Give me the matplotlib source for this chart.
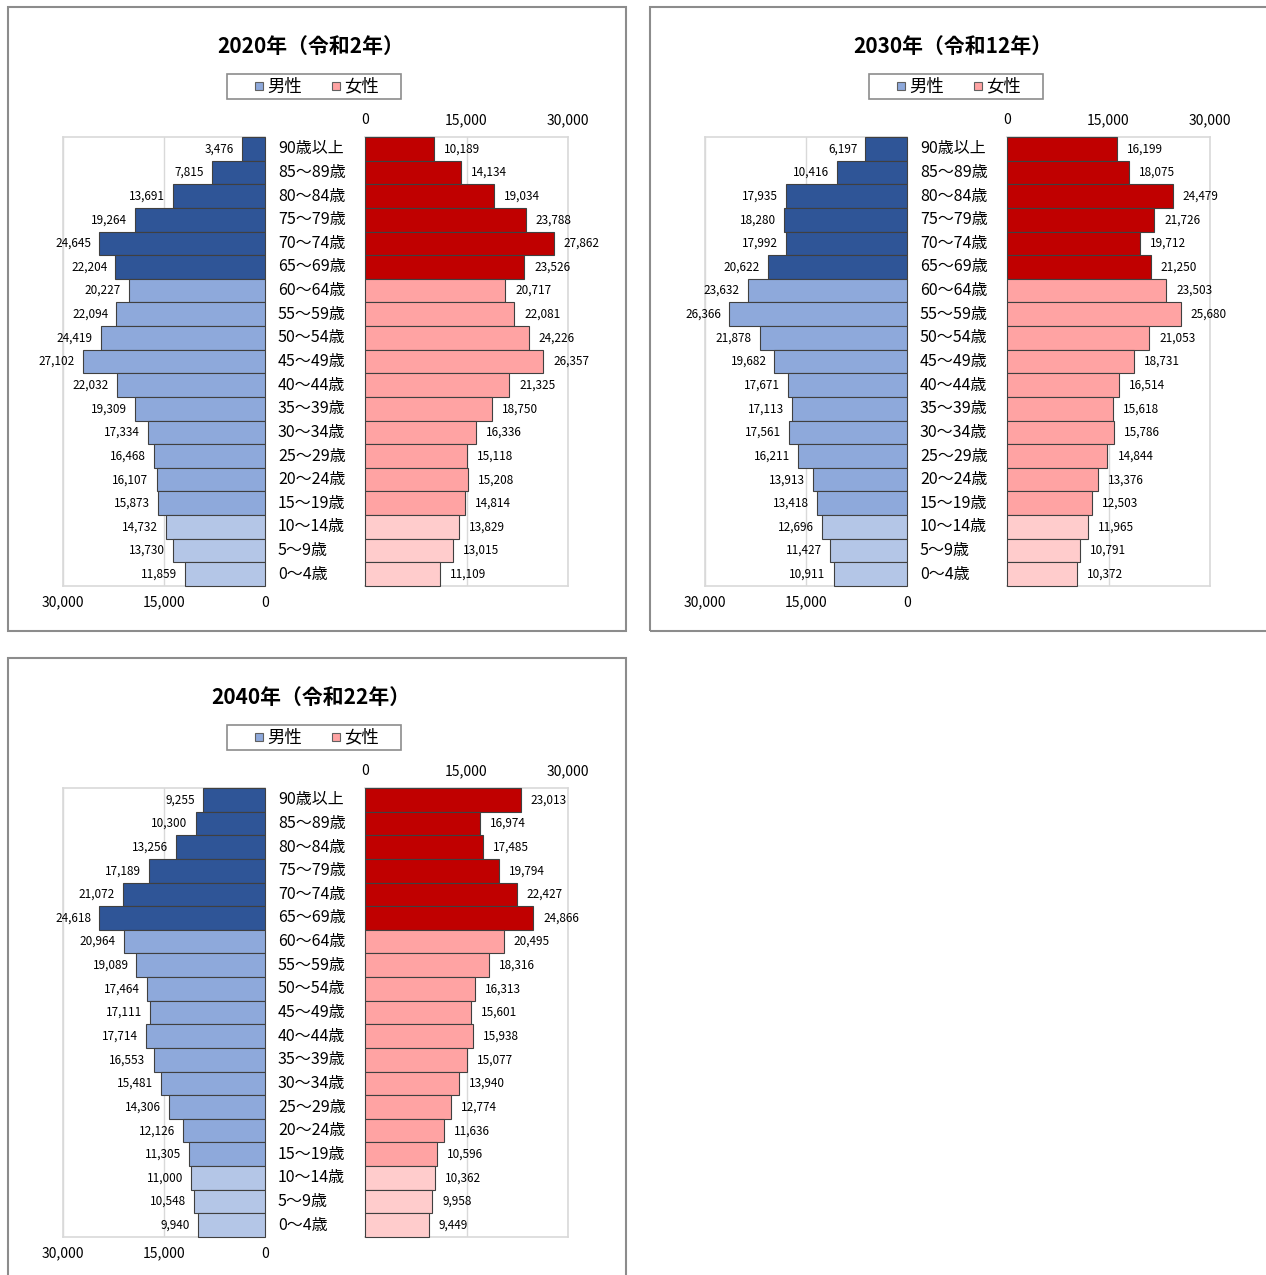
import matplotlib
matplotlib.use("Agg")
import matplotlib.pyplot as plt
from matplotlib.patches import Rectangle

plt.rcParams['font.family'] = ['Noto Sans CJK JP', 'DejaVu Sans']

ages = ["90歳以上", "85～89歳", "80～84歳", "75～79歳", "70～74歳", "65～69歳",
        "60～64歳", "55～59歳", "50～54歳", "45～49歳", "40～44歳", "35～39歳",
        "30～34歳", "25～29歳", "20～24歳", "15～19歳", "10～14歳", "5～9歳", "0～4歳"]

male_2020 = [3476, 7815, 13691, 19264, 24645, 22204, 20227, 22094, 24419, 27102,
             22032, 19309, 17334, 16468, 16107, 15873, 14732, 13730, 11859]
female_2020 = [10189, 14134, 19034, 23788, 27862, 23526, 20717, 22081, 24226, 26357,
               21325, 18750, 16336, 15118, 15208, 14814, 13829, 13015, 11109]

male_2030 = [6197, 10416, 17935, 18280, 17992, 20622, 23632, 26366, 21878, 19682,
             17671, 17113, 17561, 16211, 13913, 13418, 12696, 11427, 10911]
female_2030 = [16199, 18075, 24479, 21726, 19712, 21250, 23503, 25680, 21053, 18731,
               16514, 15618, 15786, 14844, 13376, 12503, 11965, 10791, 10372]

male_2040 = [9255, 10300, 13256, 17189, 21072, 24618, 20964, 19089, 17464, 17111,
             17714, 16553, 15481, 14306, 12126, 11305, 11000, 10548, 9940]
female_2040 = [23013, 16974, 17485, 19794, 22427, 24866, 20495, 18316, 16313, 15601,
               15938, 15077, 13940, 12774, 11636, 10596, 10362, 9958, 9449]

titles = ["2020年（令和2年）", "2030年（令和12年）", "2040年（令和22年）"]
legend_labels = ["男性", "女性"]

# colour per age band: 65+ / 15-64 / 0-14
male_cols = ["#2F5597"] * 6 + ["#8EA9DB"] * 10 + ["#B4C6E7"] * 3
female_cols = ["#C00000"] * 6 + ["#FFA3A3"] * 10 + ["#FFCCCC"] * 3

W, H = 1266, 1275
fig = plt.figure(figsize=(W / 100, H / 100), dpi=100)
fig.patch.set_facecolor("white")


def box(x0, y0, x1, y1):
    # pixel box (top-left origin) -> figure fraction rect
    return [x0 / W, 1 - y1 / H, (x1 - x0) / W, (y1 - y0) / H]


def prect(x0, y0, x1, y1, **kw):
    fig.patches.append(Rectangle((x0, H - y1), x1 - x0, y1 - y0, transform=None, **kw))


def draw_panel(ox, oy, title, male, female):
    prect(ox + 8, oy + 7, ox + 626, oy + 631, fill=False, edgecolor="#8C8C8C", linewidth=1.5)
    fig.text((ox + 311) / W, 1 - (oy + 46) / H, title, ha="center", va="center",
             fontsize=15, fontweight="bold")
    # legend box drawn by hand
    prect(ox + 227, oy + 74, ox + 401, oy + 99, facecolor="white", edgecolor="#8C8C8C",
          linewidth=1.2)
    for k, (sx, col) in enumerate(((255, "#8EA9DB"), (332, "#FFA3A3"))):
        prect(ox + sx, oy + 82, ox + sx + 8, oy + 90, facecolor=col, edgecolor="#606060",
              linewidth=0.8)
        fig.text((ox + sx + 12) / W, 1 - (oy + 86.5) / H, legend_labels[k],
                 ha="left", va="center", fontsize=12.5)

    y = list(range(len(ages)))
    axl = fig.add_axes(box(ox + 63, oy + 137, ox + 265, oy + 586))
    axr = fig.add_axes(box(ox + 365, oy + 137, ox + 568, oy + 586))
    for ax, vals, cols in ((axl, male, male_cols), (axr, female, female_cols)):
        ax.barh(y, vals, height=1.0, color=cols, edgecolor="#404040", linewidth=0.8,
                zorder=3, clip_on=False)
        ax.set_ylim(len(ages) - 0.5, -0.5)
        ax.set_yticks([])
        ax.set_xticks([0, 15000, 30000])
        ax.set_xticklabels(["0", "15,000", "30,000"])
        ax.tick_params(length=0, labelsize=10, pad=7)
        ax.grid(axis="x", color="#D9D9D9", linewidth=1)
        for s in ax.spines.values():
            s.set_color("#D9D9D9")
            s.set_linewidth(1.2)
    axl.set_xlim(30000, 0)
    axr.set_xlim(0, 30000)
    axr.xaxis.tick_top()
    axr.spines["left"].set_visible(False)
    axl.spines["right"].set_visible(False)

    for i, v in enumerate(male):
        axl.annotate(f"{v:,}", xy=(v, i), xytext=(-8, 0), textcoords="offset pixels",
                     ha="right", va="center", fontsize=8.5)
    for i, v in enumerate(female):
        axr.annotate(f"{v:,}", xy=(v, i), xytext=(10, 0), textcoords="offset pixels",
                     ha="left", va="center", fontsize=8.5)
        axr.annotate(ages[i], xy=(0, i), xytext=(-87, 0), textcoords="offset pixels",
                     ha="left", va="center", fontsize=11.5, annotation_clip=False)


draw_panel(0, 0, titles[0], male_2020, female_2020)
draw_panel(642, 0, titles[1], male_2030, female_2030)
draw_panel(0, 651, titles[2], male_2040, female_2040)

fig.savefig("out.png", dpi=100, facecolor="white")
